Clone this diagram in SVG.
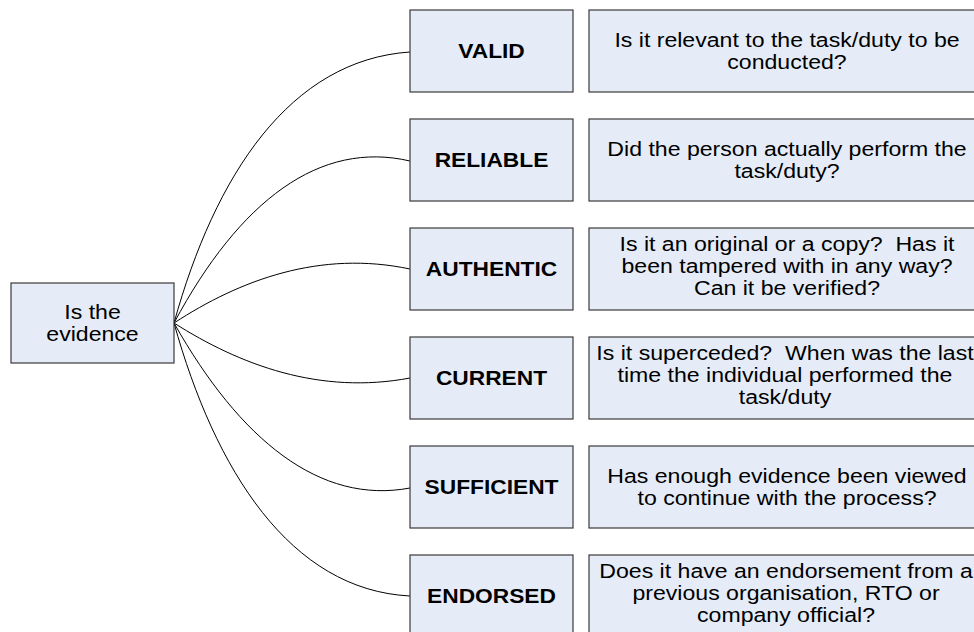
<svg xmlns="http://www.w3.org/2000/svg" width="974" height="632" viewBox="0 0 974 632">
<style>
.box{fill:#e6ecf7;stroke:#3a3a3a;stroke-width:1.2}
.lbl{font-family:"Liberation Sans",Arial,sans-serif;font-size:20.5px;font-weight:bold;fill:#000;text-anchor:middle}
.txt{font-family:"Liberation Sans",Arial,sans-serif;font-size:21px;fill:#000;text-anchor:middle}
.con{fill:none;stroke:#000;stroke-width:1}
</style>
<rect width="974" height="632" fill="#fff"/>
<g id="connectors">
<path class="con" d="M174,323 C215,175 290,60 410,52"/>
<path class="con" d="M174,323 C240,200 320,140 410,161"/>
<path class="con" d="M174,323 C240,280 320,250 410,269"/>
<path class="con" d="M174,323 C240,365 320,395 410,378"/>
<path class="con" d="M174,323 C240,440 320,505 410,488"/>
<path class="con" d="M174,323 C215,470 290,590 410,596"/>
</g>
<g id="root">
<rect class="box" x="11" y="283" width="163" height="80"/>
<g transform="translate(92.5,0) scale(1.1,1)"><text class="txt" x="0" y="319">Is the</text><text class="txt" x="0" y="341">evidence</text></g>
</g>
<g id="valid">
<rect class="box" x="410" y="10" width="163" height="82"/>
<g transform="translate(491.5,0) scale(1.11,1)"><text class="lbl" x="0" y="58">VALID</text></g>
</g>
<g id="valid-q">
<rect class="box" x="589" y="10" width="410" height="82"/>
<g transform="translate(787,0) scale(1.1,1)"><text class="txt" x="0" y="47">Is it relevant to the task/duty to be</text><text class="txt" x="0" y="69">conducted?</text></g>
</g>
<g id="reliable">
<rect class="box" x="410" y="119" width="163" height="82"/>
<g transform="translate(491.5,0) scale(1.11,1)"><text class="lbl" x="0" y="167">RELIABLE</text></g>
</g>
<g id="reliable-q">
<rect class="box" x="589" y="119" width="410" height="82"/>
<g transform="translate(787,0) scale(1.1,1)"><text class="txt" x="0" y="156">Did the person actually perform the</text><text class="txt" x="0" y="178">task/duty?</text></g>
</g>
<g id="authentic">
<rect class="box" x="410" y="228" width="163" height="82"/>
<g transform="translate(491.5,0) scale(1.11,1)"><text class="lbl" x="0" y="276">AUTHENTIC</text></g>
</g>
<g id="authentic-q">
<rect class="box" x="589" y="228" width="410" height="82"/>
<g transform="translate(787,0) scale(1.1,1)"><text class="txt" x="0" y="251">Is it an original or a copy?&#160; Has it</text><text class="txt" x="0" y="273">been tampered with in any way?</text><text class="txt" x="0" y="295">Can it be verified?</text></g>
</g>
<g id="current">
<rect class="box" x="410" y="337" width="163" height="82"/>
<g transform="translate(491.5,0) scale(1.11,1)"><text class="lbl" x="0" y="385">CURRENT</text></g>
</g>
<g id="current-q">
<rect class="box" x="589" y="337" width="410" height="82"/>
<g transform="translate(785,0) scale(1.1,1)"><text class="txt" x="0" y="360">Is it superceded?&#160; When was the last</text><text class="txt" x="0" y="382">time the individual performed the</text><text class="txt" x="0" y="404">task/duty</text></g>
</g>
<g id="sufficient">
<rect class="box" x="410" y="446" width="163" height="82"/>
<g transform="translate(491.5,0) scale(1.11,1)"><text class="lbl" x="0" y="494">SUFFICIENT</text></g>
</g>
<g id="sufficient-q">
<rect class="box" x="589" y="446" width="410" height="82"/>
<g transform="translate(787,0) scale(1.1,1)"><text class="txt" x="0" y="483">Has enough evidence been viewed</text><text class="txt" x="0" y="505">to continue with the process?</text></g>
</g>
<g id="endorsed">
<rect class="box" x="410" y="555" width="163" height="82"/>
<g transform="translate(491.5,0) scale(1.11,1)"><text class="lbl" x="0" y="603">ENDORSED</text></g>
</g>
<g id="endorsed-q">
<rect class="box" x="589" y="555" width="410" height="82"/>
<g transform="translate(786,0) scale(1.1,1)"><text class="txt" x="0" y="578">Does it have an endorsement from a</text><text class="txt" x="0" y="600">previous organisation, RTO or</text><text class="txt" x="0" y="622">company official?</text></g>
</g>
</svg>
